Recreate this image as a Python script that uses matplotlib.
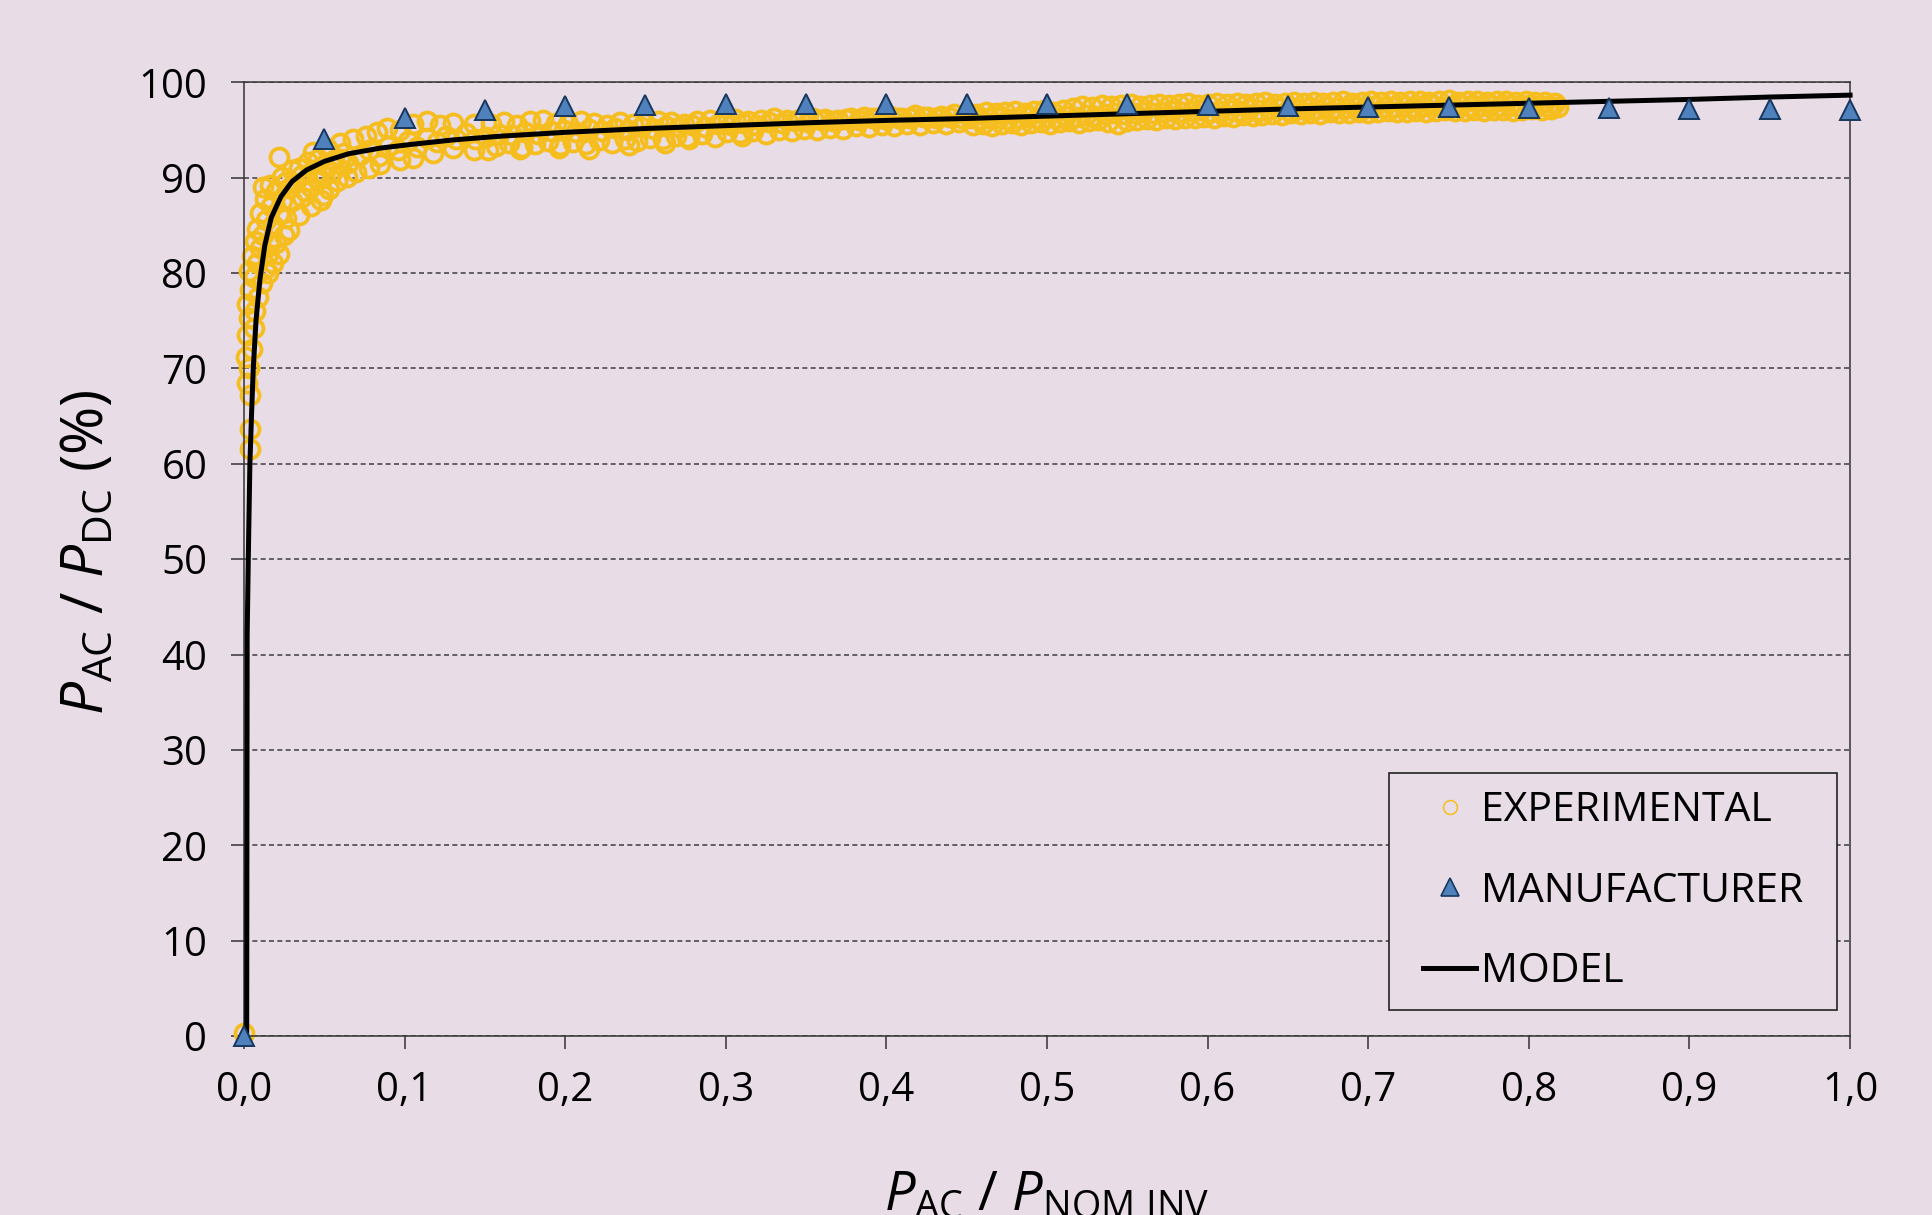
import numpy as np
import matplotlib
matplotlib.use("Agg")
from matplotlib import pyplot as plt
from matplotlib.lines import Line2D
from matplotlib.patches import Rectangle

# manufacturer efficiency curve
manuf_x = [0.0, 0.05, 0.10, 0.15, 0.20, 0.25, 0.30, 0.35, 0.40, 0.45, 0.50,
           0.55, 0.60, 0.65, 0.70, 0.75, 0.80, 0.85, 0.90, 0.95, 1.0]
manuf_y = [0.0, 94.0, 96.3, 97.1, 97.5, 97.65, 97.75, 97.75, 97.75, 97.75, 97.7,
           97.7, 97.6, 97.55, 97.45, 97.45, 97.35, 97.3, 97.2, 97.15, 97.1]

# fitted model
model_x = [0.0017, 0.002, 0.0027, 0.0037, 0.0048, 0.0058, 0.0075, 0.010, 0.013,
           0.017, 0.023, 0.030, 0.039, 0.050, 0.065, 0.085, 0.105, 0.13, 0.16,
           0.20, 0.25, 0.30, 0.35, 0.40, 0.45, 0.50, 0.55, 0.60, 0.65, 0.70,
           0.75, 0.80, 0.85, 0.90, 0.95, 1.0]
model_y = [0.0, 42.0, 50.0, 60.0, 65.5, 70.0, 75.0, 79.4, 82.9,
           85.8, 88.0, 89.6, 90.8, 91.7, 92.5, 93.1, 93.5, 93.95, 94.35,
           94.75, 95.15, 95.45, 95.75, 96.0, 96.2, 96.45, 96.7, 96.95, 97.2, 97.4,
           97.6, 97.8, 98.0, 98.2, 98.45, 98.65]

# measured points, low load (start-up and knee)
exp_low_x = [0.000, 0.004, 0.004, 0.004, 0.002, 0.003, 0.001, 0.005, 0.002, 0.006,
             0.003, 0.007, 0.002, 0.009, 0.004, 0.011, 0.006, 0.003, 0.013, 0.008,
             0.005, 0.015, 0.010, 0.007, 0.017, 0.012, 0.008, 0.020, 0.018, 0.014,
             0.010, 0.022, 0.028, 0.034, 0.017, 0.024, 0.013, 0.020, 0.028, 0.016,
             0.024, 0.032, 0.022, 0.030, 0.038, 0.036, 0.018, 0.022, 0.025, 0.026,
             0.015, 0.030, 0.036, 0.042, 0.046, 0.050, 0.034, 0.040, 0.046, 0.026,
             0.012, 0.056, 0.062,
             0.042, 0.048, 0.049, 0.053, 0.058, 0.064, 0.070, 0.078, 0.085, 0.097,
             0.105, 0.118, 0.130, 0.143, 0.040, 0.045, 0.050, 0.055, 0.060, 0.065,
             0.072, 0.078, 0.084, 0.090, 0.096, 0.102, 0.108, 0.114, 0.120, 0.126,
             0.132, 0.138, 0.144, 0.043, 0.052, 0.060, 0.068, 0.076, 0.083, 0.089,
             0.097, 0.105, 0.114, 0.122, 0.130, 0.143]
exp_low_y = [0.3, 61.5, 63.6, 67.2, 68.5, 70.0, 71.2, 72.0, 73.5, 74.2,
             75.3, 76.0, 76.8, 77.5, 78.2, 79.0, 79.6, 80.2, 80.4, 81.0,
             81.8, 82.0, 82.6, 83.4, 83.2, 84.0, 84.6, 83.1, 85.0, 85.6,
             86.3, 86.2, 84.5, 86.1, 87.0, 87.6, 87.8, 88.6, 88.9, 89.2,
             90.1, 89.4, 92.2, 90.8, 88.6, 90.3, 81.0, 82.0, 84.0, 85.8,
             80.0, 87.5, 88.0, 89.0, 89.8, 90.2, 91.0, 91.6, 92.0, 89.5,
             89.0, 91.8, 92.6,
             87.0, 87.7, 88.2, 88.8, 89.6, 90.1, 90.6, 91.0, 91.4, 91.9,
             92.1, 92.6, 93.1, 92.9, 89.6, 90.5, 91.3, 90.6, 92.0, 91.5,
             92.4, 92.9, 92.3, 93.3, 92.9, 93.8, 93.2, 94.2, 93.7, 94.4,
             94.0, 94.7, 94.1, 92.7, 93.1, 93.6, 94.0, 94.4, 94.8, 95.2,
             95.0, 95.6, 95.9, 95.5, 95.7, 95.6]

# measured points, 0.15 - 0.45
exp_mid_x = [0.154, 0.162, 0.170, 0.178, 0.186, 0.194, 0.202, 0.210, 0.218, 0.226,
             0.234, 0.242, 0.250, 0.258, 0.266, 0.274, 0.282, 0.290, 0.298, 0.306,
             0.314, 0.322, 0.330, 0.338, 0.346, 0.354, 0.362, 0.370, 0.378, 0.386,
             0.394, 0.402, 0.410, 0.418, 0.426, 0.434, 0.442,
             0.151, 0.159, 0.167, 0.175, 0.183, 0.191, 0.199, 0.207, 0.215, 0.223,
             0.231, 0.239, 0.247, 0.255, 0.263, 0.271, 0.279, 0.287, 0.295, 0.303,
             0.311, 0.319, 0.327, 0.335, 0.343, 0.351, 0.359, 0.367, 0.375, 0.383,
             0.391, 0.399, 0.407, 0.415, 0.423, 0.431, 0.439, 0.447,
             0.157, 0.165, 0.173, 0.181, 0.189, 0.197, 0.205, 0.213, 0.221, 0.229,
             0.237, 0.245, 0.253, 0.261, 0.269, 0.277, 0.285, 0.293, 0.301, 0.309,
             0.317, 0.325, 0.333, 0.341, 0.349, 0.357, 0.365, 0.373, 0.381, 0.389,
             0.397, 0.405, 0.413, 0.421, 0.429, 0.437, 0.445,
             0.152, 0.172, 0.196, 0.215, 0.240, 0.276, 0.310, 0.262]
exp_mid_y = [95.6, 95.8, 95.5, 95.9, 96.0, 95.7, 95.6, 95.9, 95.7, 95.5,
             95.8, 95.6, 95.7, 95.9, 95.8, 95.6, 95.9, 96.0, 95.8, 96.1,
             95.9, 96.0, 96.2, 96.0, 96.1, 96.3, 96.1, 96.0, 96.3, 96.4,
             96.2, 96.5, 96.3, 96.6, 96.4, 96.5, 96.7,
             94.3, 94.6, 94.5, 94.8, 94.6, 94.9, 95.0, 94.8, 95.1, 94.9,
             95.2, 95.0, 95.3, 95.1, 95.4, 95.3, 95.5, 95.3, 95.6, 95.5,
             95.7, 95.5, 95.8, 95.7, 95.9, 95.8, 96.0, 95.9, 96.1, 96.0,
             96.2, 96.1, 96.3, 96.2, 96.4, 96.3, 96.4, 96.3,
             93.3, 93.6, 93.2, 93.5, 93.8, 93.4, 93.7, 93.5, 93.9, 93.6,
             94.0, 93.8, 94.2, 94.0, 94.4, 94.1, 94.6, 94.3, 94.8, 94.7,
             94.9, 94.6, 95.0, 94.9, 95.1, 95.0, 95.2, 95.1, 95.4, 95.3,
             95.5, 95.4, 95.6, 95.5, 95.7, 95.6, 95.8,
             92.9, 93.0, 93.1, 93.0, 93.4, 94.3, 94.4, 93.6]

# measured points, 0.45 - 0.82
exp_high_x = [0.450, 0.456, 0.462, 0.468, 0.474, 0.480, 0.486, 0.492, 0.498, 0.504,
              0.510, 0.516, 0.522, 0.528, 0.534, 0.540, 0.546, 0.552, 0.558, 0.564,
              0.570, 0.576, 0.582, 0.588, 0.594, 0.600, 0.606, 0.612, 0.618, 0.624,
              0.630, 0.636, 0.642, 0.648, 0.654, 0.660, 0.666, 0.672, 0.678, 0.684,
              0.690, 0.696, 0.702, 0.708, 0.714, 0.720, 0.726, 0.732, 0.738, 0.744,
              0.750, 0.756, 0.762, 0.768, 0.774, 0.780, 0.786, 0.792, 0.798, 0.804,
              0.810, 0.816,
              0.452, 0.458, 0.464, 0.470, 0.476, 0.482, 0.488, 0.494, 0.500, 0.506,
              0.512, 0.518, 0.524, 0.530, 0.536, 0.542, 0.548, 0.554, 0.560, 0.566,
              0.572, 0.578, 0.584, 0.590, 0.596, 0.602, 0.608, 0.614, 0.620, 0.626,
              0.632, 0.638, 0.644, 0.650, 0.656, 0.662, 0.668, 0.674, 0.680, 0.686,
              0.692, 0.698, 0.704, 0.710, 0.716, 0.722, 0.728, 0.734, 0.740, 0.746,
              0.752, 0.758, 0.764, 0.770, 0.776, 0.782, 0.788, 0.794, 0.800, 0.806,
              0.812, 0.818,
              0.454, 0.460, 0.466, 0.472, 0.478, 0.484, 0.490, 0.496, 0.502, 0.508,
              0.514, 0.520, 0.526, 0.532, 0.538, 0.544, 0.550, 0.556, 0.562, 0.568,
              0.574, 0.580, 0.586, 0.592, 0.598, 0.604, 0.610, 0.616, 0.622, 0.628,
              0.634, 0.640, 0.646, 0.652, 0.658, 0.664, 0.670, 0.676, 0.682, 0.688,
              0.694, 0.700, 0.706, 0.712, 0.718, 0.724, 0.730, 0.736, 0.742, 0.748,
              0.754, 0.760, 0.766, 0.772, 0.778, 0.784, 0.790, 0.796, 0.802, 0.808,
              0.814]
exp_high_y = [96.8, 96.7, 96.9, 96.8, 96.9, 97.0, 96.8, 97.0, 97.1, 96.9,
              97.1, 97.3, 97.5, 97.4, 97.6, 97.5, 97.6, 97.7, 97.5, 97.6,
              97.7, 97.6, 97.7, 97.8, 97.6, 97.7, 97.8, 97.7, 97.8, 97.7,
              97.8, 97.9, 97.7, 97.8, 97.9, 97.8, 97.9, 97.8, 97.9, 98.0,
              97.8, 97.9, 98.0, 97.9, 98.0, 97.9, 98.0, 98.0, 97.9, 98.0,
              98.1, 97.9, 98.0, 98.0, 97.9, 98.0, 98.0, 97.9, 98.0, 97.9,
              97.9, 97.8,
              96.2, 96.1, 96.3, 96.2, 96.1, 96.3, 96.4, 96.2, 96.4, 96.3,
              96.5, 96.4, 96.6, 96.5, 96.7, 96.8, 96.7, 96.8, 96.9, 96.8,
              96.9, 97.0, 96.9, 97.0, 97.1, 96.9, 97.0, 97.1, 97.0, 97.2,
              97.1, 97.2, 97.3, 97.1, 97.2, 97.3, 97.2, 97.4, 97.3, 97.3,
              97.4, 97.3, 97.5, 97.4, 97.4, 97.5, 97.4, 97.5, 97.6, 97.4,
              97.5, 97.6, 97.5, 97.5, 97.6, 97.5, 97.6, 97.5, 97.6, 97.5,
              97.5, 97.4,
              95.5, 95.6, 95.4, 95.6, 95.7, 95.5, 95.7, 95.8, 95.6, 95.8,
              95.9, 95.7, 95.9, 96.0, 95.8, 95.6, 95.9, 96.0, 96.1, 96.0,
              96.2, 96.1, 96.3, 96.2, 96.4, 96.3, 96.5, 96.4, 96.6, 96.5,
              96.6, 96.7, 96.6, 96.8, 96.7, 96.8, 96.7, 96.9, 96.8, 96.8,
              96.9, 96.8, 96.9, 97.0, 96.9, 96.9, 97.0, 96.9, 97.0, 97.1,
              97.0, 97.0, 97.1, 97.0, 97.1, 97.1, 97.0, 97.1, 97.2, 97.1,
              97.2]

x_ticks = [0.0, 0.1, 0.2, 0.3, 0.4, 0.5, 0.6, 0.7, 0.8, 0.9, 1.0]
x_ticklabels = ["0,0", "0,1", "0,2", "0,3", "0,4", "0,5",
                "0,6", "0,7", "0,8", "0,9", "1,0"]
y_ticks = [0, 10, 20, 30, 40, 50, 60, 70, 80, 90, 100]

bg = "#E8DCE7"
yellow = "#F5BE1E"
tri_face = "#4F81BD"
tri_edge = "#17375E"

plt.rcParams["font.family"] = ["Open Sans", "DejaVu Sans"]
plt.rcParams["mathtext.fontset"] = "custom"
plt.rcParams["mathtext.rm"] = "Open Sans"
plt.rcParams["mathtext.it"] = "Open Sans:italic"

fig = plt.figure(figsize=(19.33, 12.15), dpi=100, facecolor=bg)
ax = fig.add_axes([0.1262, 0.1473, 0.8309, 0.785], facecolor=bg)

exp_x = np.concatenate([exp_low_x, exp_mid_x, exp_high_x])
exp_y = np.concatenate([exp_low_y, exp_mid_y, exp_high_y])

ax.plot(exp_x, exp_y, "o", ms=13.0, mfc="none", mec=yellow, mew=2.7,
        clip_on=False, zorder=2)
ax.plot(model_x, model_y, "-", color="black", lw=3.6, clip_on=False,
        solid_joinstyle="round", zorder=3)
ax.plot(manuf_x, manuf_y, "^", ms=14.5, mfc=tri_face, mec=tri_edge, mew=1.4,
        clip_on=False, zorder=4)

ax.set_xlim(0, 1)
ax.set_ylim(0, 100)
ax.set_xticks(x_ticks)
ax.set_xticklabels(x_ticklabels)
ax.set_yticks(y_ticks)

ax.set_axisbelow(True)
ax.yaxis.grid(True, color="#4a4a4a", lw=1.2, linestyle=(0, (3.0, 2.0)))
for side in ax.spines.values():
    side.set_color("#333333")
    side.set_linewidth(1.1)
ax.tick_params(axis="both", direction="out", length=9.5, width=1.1,
               color="#333333", labelsize=29, labelcolor="black")
ax.tick_params(axis="y", pad=17)
ax.tick_params(axis="x", pad=15)

ax.set_ylabel(r"$P_{\mathrm{AC}}$ / $P_{\mathrm{DC}}$ (%)", fontsize=42)
ax.yaxis.set_label_coords(-0.0975, 0.507)
ax.yaxis.label.set_va("center")
ax.set_xlabel(r"$P_{\mathrm{AC}}$ / $P_{\mathrm{NOM\ INV}}$", fontsize=39)
ax.xaxis.set_label_coords(0.5, -0.139)
ax.xaxis.label.set_va("top")

# legend box drawn separately so its padding can differ per side
ax.add_patch(Rectangle((0.713, 0.0273), 0.279, 0.2485, transform=ax.transAxes,
                       facecolor=bg, edgecolor="#222222", lw=1.2, zorder=5,
                       clip_on=False))
handles = [
    Line2D([], [], ls="none", marker="o", ms=10, mfc="none", mec=yellow, mew=1.1),
    Line2D([], [], ls="none", marker="^", ms=13, mfc=tri_face, mec=tri_edge, mew=1.2),
    Line2D([], [], color="black", lw=3.6),
]
leg = ax.legend(handles, ["EXPERIMENTAL", "MANUFACTURER", "MODEL"],
                loc="center", bbox_to_anchor=(0.8525, 0.1515),
                borderaxespad=0, fontsize=29.5, frameon=False,
                borderpad=0, labelspacing=0.98, handlelength=1.3,
                handletextpad=0.12)
leg.set_zorder(6)

fig.savefig("out.png", dpi=100, facecolor=bg)
